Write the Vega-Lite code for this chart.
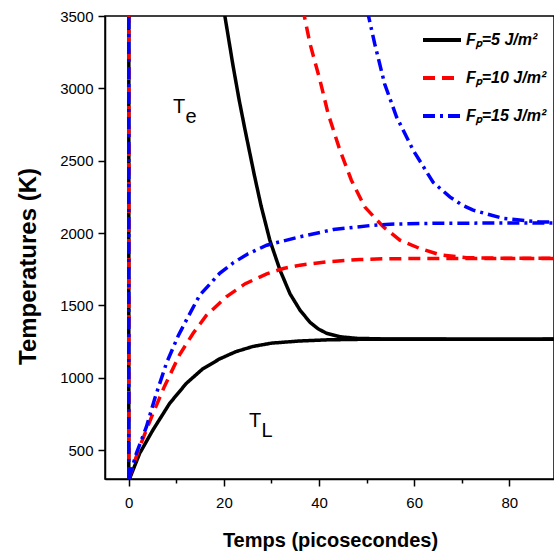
{
  "$schema": "https://vega.github.io/schema/vega-lite/v6.json",
  "width": 449,
  "height": 463,
  "autosize": {"type": "none"},
  "padding": {"left": 105, "top": 16, "right": 0, "bottom": 79},
  "background": "white",
  "config": {
    "font": "Liberation Sans",
    "view": {"stroke": "black", "strokeWidth": 1.5},
    "axis": {
      "grid": false,
      "domainColor": "black",
      "domainWidth": 1.5,
      "tickColor": "black",
      "tickWidth": 1.5,
      "labelColor": "black",
      "titleColor": "black",
      "labelFontSize": 15,
      "labelFlush": false,
      "labelOverlap": false
    }
  },
  "datasets": {
    "curves": [
      {"Fp": "Fₚ=5 J/m²", "kind": "Te", "t": 0, "T": 300},
      {"Fp": "Fₚ=5 J/m²", "kind": "Te", "t": 0.15, "T": 40000},
      {"Fp": "Fₚ=5 J/m²", "kind": "Te", "t": 19.6, "T": 3620},
      {"Fp": "Fₚ=5 J/m²", "kind": "Te", "t": 20.2, "T": 3500},
      {"Fp": "Fₚ=5 J/m²", "kind": "Te", "t": 21.9, "T": 3160},
      {"Fp": "Fₚ=5 J/m²", "kind": "Te", "t": 23.2, "T": 2920},
      {"Fp": "Fₚ=5 J/m²", "kind": "Te", "t": 24.4, "T": 2720},
      {"Fp": "Fₚ=5 J/m²", "kind": "Te", "t": 25.4, "T": 2560},
      {"Fp": "Fₚ=5 J/m²", "kind": "Te", "t": 26.4, "T": 2400},
      {"Fp": "Fₚ=5 J/m²", "kind": "Te", "t": 27.8, "T": 2190},
      {"Fp": "Fₚ=5 J/m²", "kind": "Te", "t": 29.65, "T": 1951},
      {"Fp": "Fₚ=5 J/m²", "kind": "Te", "t": 31.8, "T": 1743},
      {"Fp": "Fₚ=5 J/m²", "kind": "Te", "t": 33.9, "T": 1580},
      {"Fp": "Fₚ=5 J/m²", "kind": "Te", "t": 36, "T": 1467},
      {"Fp": "Fₚ=5 J/m²", "kind": "Te", "t": 38.1, "T": 1383},
      {"Fp": "Fₚ=5 J/m²", "kind": "Te", "t": 39.8, "T": 1338},
      {"Fp": "Fₚ=5 J/m²", "kind": "Te", "t": 41.6, "T": 1307},
      {"Fp": "Fₚ=5 J/m²", "kind": "Te", "t": 44.4, "T": 1283},
      {"Fp": "Fₚ=5 J/m²", "kind": "Te", "t": 48, "T": 1272},
      {"Fp": "Fₚ=5 J/m²", "kind": "Te", "t": 55, "T": 1267},
      {"Fp": "Fₚ=5 J/m²", "kind": "Te", "t": 100, "T": 1266},
      {"Fp": "Fₚ=5 J/m²", "kind": "TL", "t": 0, "T": 300},
      {"Fp": "Fₚ=5 J/m²", "kind": "TL", "t": 0.2, "T": 305},
      {"Fp": "Fₚ=5 J/m²", "kind": "TL", "t": 2.3, "T": 478},
      {"Fp": "Fₚ=5 J/m²", "kind": "TL", "t": 5.1, "T": 640},
      {"Fp": "Fₚ=5 J/m²", "kind": "TL", "t": 8.6, "T": 823},
      {"Fp": "Fₚ=5 J/m²", "kind": "TL", "t": 12.1, "T": 961},
      {"Fp": "Fₚ=5 J/m²", "kind": "TL", "t": 15.5, "T": 1060},
      {"Fp": "Fₚ=5 J/m²", "kind": "TL", "t": 19.1, "T": 1130},
      {"Fp": "Fₚ=5 J/m²", "kind": "TL", "t": 22.5, "T": 1180},
      {"Fp": "Fₚ=5 J/m²", "kind": "TL", "t": 26.1, "T": 1216},
      {"Fp": "Fₚ=5 J/m²", "kind": "TL", "t": 30, "T": 1239},
      {"Fp": "Fₚ=5 J/m²", "kind": "TL", "t": 36, "T": 1254},
      {"Fp": "Fₚ=5 J/m²", "kind": "TL", "t": 42, "T": 1262},
      {"Fp": "Fₚ=5 J/m²", "kind": "TL", "t": 50, "T": 1266},
      {"Fp": "Fₚ=5 J/m²", "kind": "TL", "t": 100, "T": 1267},
      {"Fp": "Fₚ=10 J/m²", "kind": "Te", "t": 0, "T": 300},
      {"Fp": "Fₚ=10 J/m²", "kind": "Te", "t": 0.1, "T": 40000},
      {"Fp": "Fₚ=10 J/m²", "kind": "Te", "t": 36.5, "T": 3560},
      {"Fp": "Fₚ=10 J/m²", "kind": "Te", "t": 37, "T": 3486},
      {"Fp": "Fₚ=10 J/m²", "kind": "Te", "t": 38.1, "T": 3309},
      {"Fp": "Fₚ=10 J/m²", "kind": "Te", "t": 40.2, "T": 3056},
      {"Fp": "Fₚ=10 J/m²", "kind": "Te", "t": 41.9, "T": 2826},
      {"Fp": "Fₚ=10 J/m²", "kind": "Te", "t": 44.4, "T": 2572},
      {"Fp": "Fₚ=10 J/m²", "kind": "Te", "t": 46.8, "T": 2365},
      {"Fp": "Fₚ=10 J/m²", "kind": "Te", "t": 49.6, "T": 2181},
      {"Fp": "Fₚ=10 J/m²", "kind": "Te", "t": 53.5, "T": 2043},
      {"Fp": "Fₚ=10 J/m²", "kind": "Te", "t": 57, "T": 1951},
      {"Fp": "Fₚ=10 J/m²", "kind": "Te", "t": 61.2, "T": 1893},
      {"Fp": "Fₚ=10 J/m²", "kind": "Te", "t": 65.4, "T": 1850},
      {"Fp": "Fₚ=10 J/m²", "kind": "Te", "t": 71, "T": 1830},
      {"Fp": "Fₚ=10 J/m²", "kind": "Te", "t": 80, "T": 1825},
      {"Fp": "Fₚ=10 J/m²", "kind": "Te", "t": 100, "T": 1825},
      {"Fp": "Fₚ=10 J/m²", "kind": "TL", "t": 0, "T": 300},
      {"Fp": "Fₚ=10 J/m²", "kind": "TL", "t": 1, "T": 400},
      {"Fp": "Fₚ=10 J/m²", "kind": "TL", "t": 2.3, "T": 523},
      {"Fp": "Fₚ=10 J/m²", "kind": "TL", "t": 5.1, "T": 754},
      {"Fp": "Fₚ=10 J/m²", "kind": "TL", "t": 7.5, "T": 940},
      {"Fp": "Fₚ=10 J/m²", "kind": "TL", "t": 10.7, "T": 1160},
      {"Fp": "Fₚ=10 J/m²", "kind": "TL", "t": 13.5, "T": 1306},
      {"Fp": "Fₚ=10 J/m²", "kind": "TL", "t": 16.3, "T": 1430},
      {"Fp": "Fₚ=10 J/m²", "kind": "TL", "t": 20.5, "T": 1559},
      {"Fp": "Fₚ=10 J/m²", "kind": "TL", "t": 24.5, "T": 1650},
      {"Fp": "Fₚ=10 J/m²", "kind": "TL", "t": 29, "T": 1718},
      {"Fp": "Fₚ=10 J/m²", "kind": "TL", "t": 32.5, "T": 1755},
      {"Fp": "Fₚ=10 J/m²", "kind": "TL", "t": 36, "T": 1778},
      {"Fp": "Fₚ=10 J/m²", "kind": "TL", "t": 41.6, "T": 1801},
      {"Fp": "Fₚ=10 J/m²", "kind": "TL", "t": 48.6, "T": 1817},
      {"Fp": "Fₚ=10 J/m²", "kind": "TL", "t": 55, "T": 1823},
      {"Fp": "Fₚ=10 J/m²", "kind": "TL", "t": 100, "T": 1825},
      {"Fp": "Fₚ=15 J/m²", "kind": "Te", "t": 0, "T": 300},
      {"Fp": "Fₚ=15 J/m²", "kind": "Te", "t": 0.05, "T": 40000},
      {"Fp": "Fₚ=15 J/m²", "kind": "Te", "t": 50, "T": 3580},
      {"Fp": "Fₚ=15 J/m²", "kind": "Te", "t": 50.4, "T": 3500},
      {"Fp": "Fₚ=15 J/m²", "kind": "Te", "t": 51.7, "T": 3309},
      {"Fp": "Fₚ=15 J/m²", "kind": "Te", "t": 53.8, "T": 3030},
      {"Fp": "Fₚ=15 J/m²", "kind": "Te", "t": 56.3, "T": 2802},
      {"Fp": "Fₚ=15 J/m²", "kind": "Te", "t": 59.8, "T": 2572},
      {"Fp": "Fₚ=15 J/m²", "kind": "Te", "t": 64, "T": 2350},
      {"Fp": "Fₚ=15 J/m²", "kind": "Te", "t": 67.5, "T": 2250},
      {"Fp": "Fₚ=15 J/m²", "kind": "Te", "t": 70, "T": 2195},
      {"Fp": "Fₚ=15 J/m²", "kind": "Te", "t": 72.4, "T": 2158},
      {"Fp": "Fₚ=15 J/m²", "kind": "Te", "t": 78.7, "T": 2101},
      {"Fp": "Fₚ=15 J/m²", "kind": "Te", "t": 86.4, "T": 2077},
      {"Fp": "Fₚ=15 J/m²", "kind": "Te", "t": 100, "T": 2070},
      {"Fp": "Fₚ=15 J/m²", "kind": "TL", "t": 0, "T": 300},
      {"Fp": "Fₚ=15 J/m²", "kind": "TL", "t": 1.6, "T": 478},
      {"Fp": "Fₚ=15 J/m²", "kind": "TL", "t": 3.7, "T": 660},
      {"Fp": "Fₚ=15 J/m²", "kind": "TL", "t": 5.5, "T": 860},
      {"Fp": "Fₚ=15 J/m²", "kind": "TL", "t": 7.9, "T": 1099},
      {"Fp": "Fₚ=15 J/m²", "kind": "TL", "t": 10.4, "T": 1290},
      {"Fp": "Fₚ=15 J/m²", "kind": "TL", "t": 12.1, "T": 1398},
      {"Fp": "Fₚ=15 J/m²", "kind": "TL", "t": 14.9, "T": 1570},
      {"Fp": "Fₚ=15 J/m²", "kind": "TL", "t": 19.1, "T": 1721},
      {"Fp": "Fₚ=15 J/m²", "kind": "TL", "t": 22, "T": 1795},
      {"Fp": "Fₚ=15 J/m²", "kind": "TL", "t": 25, "T": 1855},
      {"Fp": "Fₚ=15 J/m²", "kind": "TL", "t": 29, "T": 1916},
      {"Fp": "Fₚ=15 J/m²", "kind": "TL", "t": 36, "T": 1974},
      {"Fp": "Fₚ=15 J/m²", "kind": "TL", "t": 43, "T": 2024},
      {"Fp": "Fₚ=15 J/m²", "kind": "TL", "t": 51.4, "T": 2054},
      {"Fp": "Fₚ=15 J/m²", "kind": "TL", "t": 54.9, "T": 2061},
      {"Fp": "Fₚ=15 J/m²", "kind": "TL", "t": 65, "T": 2068},
      {"Fp": "Fₚ=15 J/m²", "kind": "TL", "t": 100, "T": 2070}
    ],
    "labels": [
      {"t": 9.3, "T": 2829, "label": "T"},
      {"t": 11.9, "T": 2760, "label": "e"},
      {"t": 25.3, "T": 659, "label": "T"},
      {"t": 27.9, "T": 590, "label": "L"}
    ]
  },
  "layer": [
    {
      "data": {"name": "curves"},
      "mark": {"type": "line", "clip": true, "strokeWidth": 3.5},
      "encoding": {
        "x": {
          "field": "t",
          "type": "quantitative",
          "scale": {"domain": [-5, 89.4], "nice": false, "zero": false},
          "axis": {
            "values": [0, 10, 20, 30, 40, 50, 60, 70, 80],
            "format": "d",
            "labelExpr": "datum.value % 20 === 0 ? datum.label : ''",
            "tickSize": {"condition": {"test": "datum.value % 20 === 0", "value": 7}, "value": 4},
            "labelPadding": 9,
            "title": "Temps (picosecondes)",
            "titleFontSize": 20,
            "titleFontWeight": "bold",
            "titleBaseline": "alphabetic",
            "titleY": 67,
            "titleX": 225
          }
        },
        "y": {
          "field": "T",
          "type": "quantitative",
          "scale": {"domain": [300, 3500], "nice": false, "zero": false},
          "axis": {
            "values": [500, 750, 1000, 1250, 1500, 1750, 2000, 2250, 2500, 2750, 3000, 3250, 3500],
            "format": "d",
            "labelExpr": "datum.value % 500 === 0 ? datum.label : ''",
            "tickSize": {"condition": {"test": "datum.value % 500 === 0", "value": 7}, "value": 4},
            "labelPadding": 5,
            "title": "Temperatures (K)",
            "titleFontSize": 24,
            "titleFontWeight": "bold",
            "titleAngle": -90,
            "titleAlign": "center",
            "titleBaseline": "middle",
            "titleX": -77,
            "titleY": 250
          }
        },
        "color": {
          "field": "Fp",
          "type": "nominal",
          "scale": {
            "domain": ["Fₚ=5 J/m²", "Fₚ=10 J/m²", "Fₚ=15 J/m²"],
            "range": ["#000000", "#FF0000", "#0000FF"]
          },
          "legend": {
            "title": null,
            "orient": "none",
            "legendX": 316,
            "legendY": 3,
            "padding": 0,
            "symbolType": "stroke",
            "symbolSize": 1444,
            "symbolStrokeWidth": 4,
            "labelFontSize": 16,
            "labelFontStyle": "italic",
            "labelFontWeight": "bold",
            "labelColor": "black",
            "labelOffset": 3,
            "labelLimit": 0,
            "rowPadding": 9
          }
        },
        "strokeDash": {
          "field": "Fp",
          "type": "nominal",
          "scale": {
            "domain": ["Fₚ=5 J/m²", "Fₚ=10 J/m²", "Fₚ=15 J/m²"],
            "range": [[1, 0], [12, 7], [12, 5, 3, 5]]
          },
          "legend": {
            "title": null,
            "orient": "none",
            "legendX": 316,
            "legendY": 3,
            "padding": 0,
            "symbolType": "stroke",
            "symbolSize": 1444,
            "symbolStrokeWidth": 4,
            "labelFontSize": 16,
            "labelFontStyle": "italic",
            "labelFontWeight": "bold",
            "labelColor": "black",
            "labelOffset": 3,
            "labelLimit": 0,
            "rowPadding": 9
          }
        },
        "detail": {"field": "kind", "type": "nominal"}
      }
    },
    {
      "data": {"name": "labels"},
      "mark": {"type": "text", "align": "left", "baseline": "alphabetic", "fontSize": 20, "color": "black"},
      "encoding": {
        "x": {"field": "t", "type": "quantitative"},
        "y": {"field": "T", "type": "quantitative"},
        "text": {"field": "label", "type": "nominal"}
      }
    }
  ]
}
